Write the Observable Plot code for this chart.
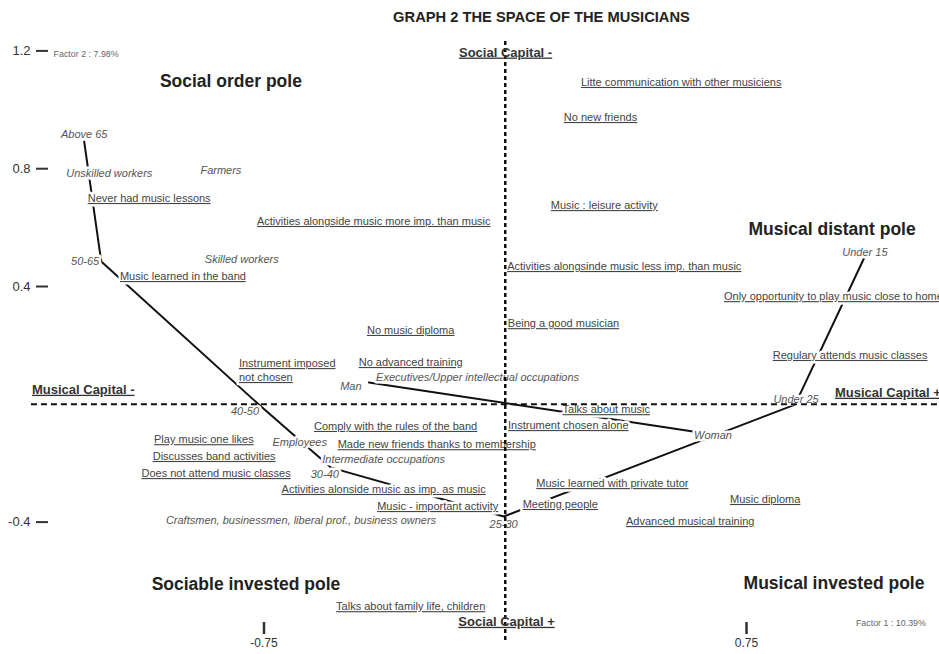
<!DOCTYPE html>
<html><head><meta charset="utf-8">
<script src="https://cdn.jsdelivr.net/npm/d3@7"></script>
<script src="https://cdn.jsdelivr.net/npm/@observablehq/plot@0.6"></script>
<style>
body{margin:0;background:#fff;font-family:"Liberation Sans",Arial,sans-serif;}
#title{width:939px;height:30px;box-sizing:border-box;padding-left:144px;text-align:center;font-weight:bold;font-size:14.7px;line-height:34px;color:#222;}
svg{display:block;}
</style></head>
<body><div id="title">GRAPH 2 THE SPACE OF THE MUSICIANS</div>
<script>
// Age trajectory (supplementary modality points)
const ageGroups = ["Above 65","50-65","40-50","30-40","25-30","Under 25","Under 15"];
const ageX = [-1.309,-1.256,-0.766,-0.542,-0.005,0.901,1.115];
const ageY = [0.892,0.485,-0.001,-0.215,-0.381,-0.001,0.495];

// Gender points
const genders = ["Man","Woman"];
const genderX = [-0.424,0.584];
const genderY = [0.074,-0.092];

// Active modalities (underlined labels), centred
const modLabels = [
  "Litte communication with other musiciens","No new friends","Music : leisure activity",
  "Activities alongside music more imp. than music","Activities alongsinde music less imp. than music",
  "Never had music lessons","Music learned in the band","Regulary attends music classes",
  "Being a good musician","No music diploma","No advanced training",
  "Comply with the rules of the band","Play music one likes","Made new friends thanks to membership",
  "Discusses band activities","Does not attend music classes","Activities alonside music as imp. as music",
  "Music - important activity","Talks about music","Instrument chosen alone",
  "Music learned with private tutor","Meeting people","Music diploma","Advanced musical training",
  "Talks about family life, children"
];
const modX = [0.547,0.296,0.308,-0.409,0.370,-1.107,-1.002,1.072,0.181,-0.294,-0.294,
  -0.341,-0.937,-0.213,-0.905,-0.899,-0.378,-0.210,0.314,0.196,0.333,0.171,0.808,0.575,-0.294];
const modY = [1.093,0.974,0.675,0.621,0.468,0.699,0.434,0.166,0.274,0.251,0.142,
  -0.075,-0.120,-0.137,-0.177,-0.235,-0.289,-0.347,-0.018,-0.072,-0.269,-0.340,-0.323,-0.398,-0.687];

// Active modalities whose label starts at the point
const modStartLabels = ["Only opportunity to play music close to home","Instrument imposed\nnot chosen"];
const modStartX = [0.680,-0.828];
const modStartY = [0.369,0.118];

// Supplementary modalities (italic labels)
const supLabels = ["Above 65","Unskilled workers","Farmers","Skilled workers","50-65","Man",
  "Executives/Upper intellectual occupations","40-50","Employees","Intermediate occupations","30-40",
  "Craftsmen, businessmen, liberal prof., business owners","25-30","Woman","Under 25","Under 15"];
const supX = [-1.309,-1.231,-0.884,-0.819,-1.306,-0.480,-0.086,-0.809,-0.639,-0.378,-0.561,-0.635,-0.005,0.646,0.904,1.118];
const supY = [0.916,0.784,0.794,0.492,0.485,0.060,0.091,-0.024,-0.130,-0.187,-0.238,-0.395,-0.408,-0.106,0.016,0.515];

// Pole titles
const poleLabels = ["Social order pole","Musical distant pole","Sociable invested pole","Musical invested pole"];
const poleX = [-0.853,1.016,-0.806,1.022];
const poleY = [1.096,0.594,-0.612,-0.609];

// Axis-end labels
const axisPoleLabels = ["Social Capital -","Social Capital +","Musical Capital -"];
const axisPoleX = [0.001,0.004,-1.312];
const axisPoleY = [1.195,-0.738,0.050];
const axisPoleStartLabels = ["Musical Capital +"];
const axisPoleStartX = [1.025];
const axisPoleStartY = [0.040];

// Factor (inertia) labels
const factorLabels = ["Factor 2 : 7.98%","Factor 1 : 10.39%"];
const factorX = [-1.303,1.199];
const factorY = [1.188,-0.744];

// Axis extents for the dashed origin lines
const hAxisExtent = [-1.473,1.348];
const vAxisExtent = [-0.802,1.242];

// Ticks
const xTicks = [-0.75,0.75];
const xTickLabels = ["-0.75","0.75"];
const yTicks = [1.2,0.8,0.4,-0.4];
const yTickLabels = ["1.2","0.8","0.4","-0.4"];

const zip = (labels, xs, ys) => labels.map((t,i) => ({t, x: xs[i], y: ys[i]}));
const ageData = zip(ageGroups, ageX, ageY);
const genderData = zip(genders, genderX, genderY);
const modData = zip(modLabels, modX, modY);
const modStartData = zip(modStartLabels, modStartX, modStartY);
const supData = zip(supLabels, supX, supY);
const poleData = zip(poleLabels, poleX, poleY);
const axisPoleData = zip(axisPoleLabels, axisPoleX, axisPoleY);
const axisPoleStartData = zip(axisPoleStartLabels, axisPoleStartX, axisPoleStartY);
const factorData = zip(factorLabels, factorX, factorY);

// white backing under labels (masks the trajectory lines), then the label itself
const halo = {fill: "white", stroke: "white", strokeWidth: 5, strokeLinejoin: "round"};
const labelPair = (data, opts) => [
  Plot.text(data, {x: "x", y: "y", text: "t", ...opts, ...halo}),
  Plot.text(data, {x: "x", y: "y", text: "t", ...opts})
];

const chart = Plot.plot({
  width: 939,
  height: 624,
  marginLeft: 48,
  marginRight: 0,
  marginTop: 0,
  marginBottom: 32,
  style: {fontFamily: "'Liberation Sans', Arial, sans-serif", background: "white"},
  x: {domain: [-0.75, 0.75], range: [263.5, 746], label: null},
  y: {domain: [-0.4, 1.2], range: [491.6, 20.4], label: null},
  marks: [
    Plot.axisY(yTicks, {anchor: "left", tickSize: 12, tickPadding: 6, fontSize: 13, strokeWidth: 2, color: "#333", label: null,
      tickFormat: d => yTickLabels[yTicks.indexOf(d)]}),
    Plot.axisX(xTicks, {anchor: "bottom", tickSize: 12, tickPadding: 4, fontSize: 12, strokeWidth: 2.5, color: "#333", label: null,
      tickFormat: d => xTickLabels[xTicks.indexOf(d)]}),
    Plot.line(ageData, {x: "x", y: "y", stroke: "#111", strokeWidth: 2}),
    Plot.line(genderData, {x: "x", y: "y", stroke: "#111", strokeWidth: 2}),
    ...labelPair(modData, {fontSize: 11, fill: "#444"}),
    ...labelPair(modStartData, {fontSize: 11, fill: "#444", textAnchor: "start", lineHeight: 1.27}),
    ...labelPair(supData, {fontSize: 11, fontStyle: "italic", fill: "#555"}),
    Plot.text(poleData, {x: "x", y: "y", text: "t", fontSize: 17.5, fontWeight: "bold", fill: "#222"}),
    Plot.ruleY([0], {x1: hAxisExtent[0], x2: hAxisExtent[1], stroke: "#111", strokeWidth: 2, strokeDasharray: "6,4"}),
    Plot.ruleX([0], {y1: vAxisExtent[0], y2: vAxisExtent[1], stroke: "#111", strokeWidth: 2.5, strokeDasharray: "4,3"}),
    Plot.text(axisPoleData, {x: "x", y: "y", text: "t", fontSize: 13, fontWeight: "bold", fill: "#333"}),
    Plot.text(axisPoleStartData, {x: "x", y: "y", text: "t", fontSize: 13, fontWeight: "bold", fill: "#333", textAnchor: "start"}),
    Plot.text(factorData, {x: "x", y: "y", text: "t", fontSize: 8.9, fill: "#666"})
  ]
});

// underline the active-modality and axis-end labels
const underlined = new Set([...modLabels, ...modStartLabels, ...axisPoleLabels, ...axisPoleStartLabels].map(s => s.replace(/\n/g, "")));
d3.select(chart).selectAll("text")
  .filter(function() { return underlined.has(this.textContent); })
  .style("text-decoration", "underline");

document.body.appendChild(chart);
</script></body></html>
